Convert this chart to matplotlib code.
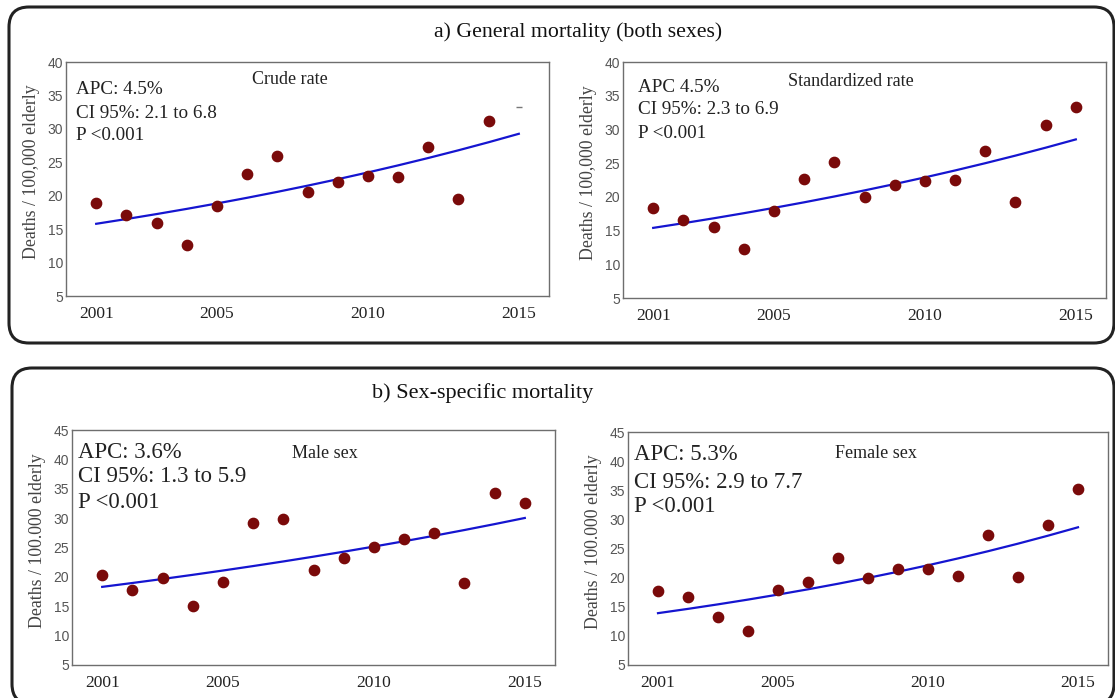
import numpy as np
import matplotlib.pyplot as plt
from matplotlib.patches import FancyBboxPatch

# Data
years = np.arange(2001, 2016)

crude = [18.9, 17.1, 15.9, 12.6, 18.4, 23.3, 26.0, 20.5, 22.1, 22.9, 22.8, 27.3, 19.5, 31.2, 33.3]
standardized = [18.4, 16.5, 15.6, 12.3, 17.9, 22.7, 25.2, 20.0, 21.7, 22.4, 22.5, 26.8, 19.3, 30.7, 33.4]
male = [20.4, 17.7, 19.8, 15.0, 19.2, 29.1, 29.9, 21.2, 23.2, 25.1, 26.4, 27.5, 18.9, 34.3, 32.5]
female = [17.7, 16.7, 13.2, 10.9, 17.9, 19.3, 23.3, 19.9, 21.4, 21.4, 20.3, 27.3, 20.1, 29.1, 35.2]

# joinpoint fit: value at 2001 and annual percent change
fit_start = [15.8, 15.4, 18.3, 13.9]
apc = [4.5, 4.5, 3.6, 5.3]

subtitles = ["Crude rate", "Standardized rate", "Male sex", "Female sex"]
stats = [
    ["APC: 4.5%", "CI 95%: 2.1 to 6.8", "P <0.001"],
    ["APC 4.5%", "CI 95%: 2.3 to 6.9", "P <0.001"],
    ["APC: 3.6%", "CI 95%: 1.3 to 5.9", "P <0.001"],
    ["APC: 5.3%", "CI 95%: 2.9 to 7.7", "P <0.001"],
]
ylabels = ["Deaths / 100,000 elderly", "Deaths / 100,000 elderly",
           "Deaths / 100.000 elderly", "Deaths / 100.000 elderly"]
xticks = [2001, 2005, 2010, 2015]

W, H = 1115, 698
SERIF = "Liberation Serif"
TICKFONT = ["Liberation Sans Narrow", "Liberation Sans"]

fig = plt.figure(figsize=(W / 100, H / 100), dpi=100)


def px(x, y):
    """pixel (from top-left) -> figure fraction"""
    return x / W, 1 - y / H


def add_box(x0, y0, x1, y1):
    # rounded frame, drawn in inches so the corners stay round
    box = FancyBboxPatch((x0 / 100, (H - y1) / 100), (x1 - x0) / 100, (y1 - y0) / 100,
                         boxstyle="round,pad=0,rounding_size=0.2",
                         transform=fig.dpi_scale_trans, fill=False,
                         edgecolor="#222222", linewidth=2.2, zorder=0)
    fig.add_artist(box)


add_box(9, 7, 1114, 343)
add_box(12, 368, 1114, 704)

fig.text(*px(578, 32), "a) General mortality (both sexes)", family=SERIF,
         fontsize=15.7, color="#111111", ha="center", va="center")
fig.text(*px(483, 393), "b) Sex-specific mortality", family=SERIF,
         fontsize=16, color="#111111", ha="center", va="center")

# axes boxes in pixels: left, top, right, bottom
boxes = [(66, 62, 549, 296), (623, 62, 1106, 298),
         (72, 430, 555, 665), (628, 432, 1108, 665)]
series = [crude, standardized, male, female]
ylims = [(5, 40), (5, 40), (5, 45), (5, 45)]
sub_pos = [(290, 80), (851, 82), (325, 453), (876, 454)]
stat_x = [76, 638, 78, 634]
stat_y = [(90, 113, 136), (87, 110, 133), (452, 477, 503), (455, 482, 507)]
stat_size = [13.8, 13.8, 16.4, 16.4]

for i in range(4):
    l, t, r, b = boxes[i]
    ax = fig.add_axes([l / W, 1 - b / H, (r - l) / W, (b - t) / H])
    vals = np.array(series[i])

    if i == 0:
        # last crude point is cut off in the original, only a stub remains
        ax.scatter(years[:-1], vals[:-1], s=55, color="#7a0a0a", zorder=3)
        ax.plot(years[-1], vals[-1], marker="_", markersize=5, color="#777777")
    else:
        ax.scatter(years, vals, s=55, color="#7a0a0a", zorder=3)

    trend = fit_start[i] * (1 + apc[i] / 100) ** (years - 2001)
    ax.plot(years, trend, color="#1515d0", linewidth=1.6, zorder=2)

    ax.set_xlim(2000, 2016)
    lo, hi = ylims[i]
    ax.set_ylim(lo, hi)
    ax.set_yticks(np.arange(lo, hi + 1, 5))
    ax.set_xticks(xticks)
    ax.tick_params(axis="both", length=0)
    ax.tick_params(axis="y", pad=2, labelsize=10, labelcolor="#555555")
    ax.tick_params(axis="x", pad=7, labelsize=12.5, labelcolor="#222222")
    for lab in ax.get_yticklabels():
        lab.set_family(TICKFONT)
    for lab in ax.get_xticklabels():
        lab.set_family(SERIF)
    for sp in ax.spines.values():
        sp.set_color("#6e6e6e")
        sp.set_linewidth(1.0)

    ax.set_ylabel(ylabels[i], family=SERIF, fontsize=12.8, color="#444444")
    ax.yaxis.set_label_coords(-0.054, 0.53)

    fig.text(*px(*sub_pos[i]), subtitles[i], family=SERIF, fontsize=13,
             color="#222222", ha="center", va="center")
    for line, yy in zip(stats[i], stat_y[i]):
        fig.text(*px(stat_x[i], yy), line, family=SERIF, fontsize=stat_size[i],
                 color="#222222", ha="left", va="center")

fig.savefig("out.png", dpi=100)
